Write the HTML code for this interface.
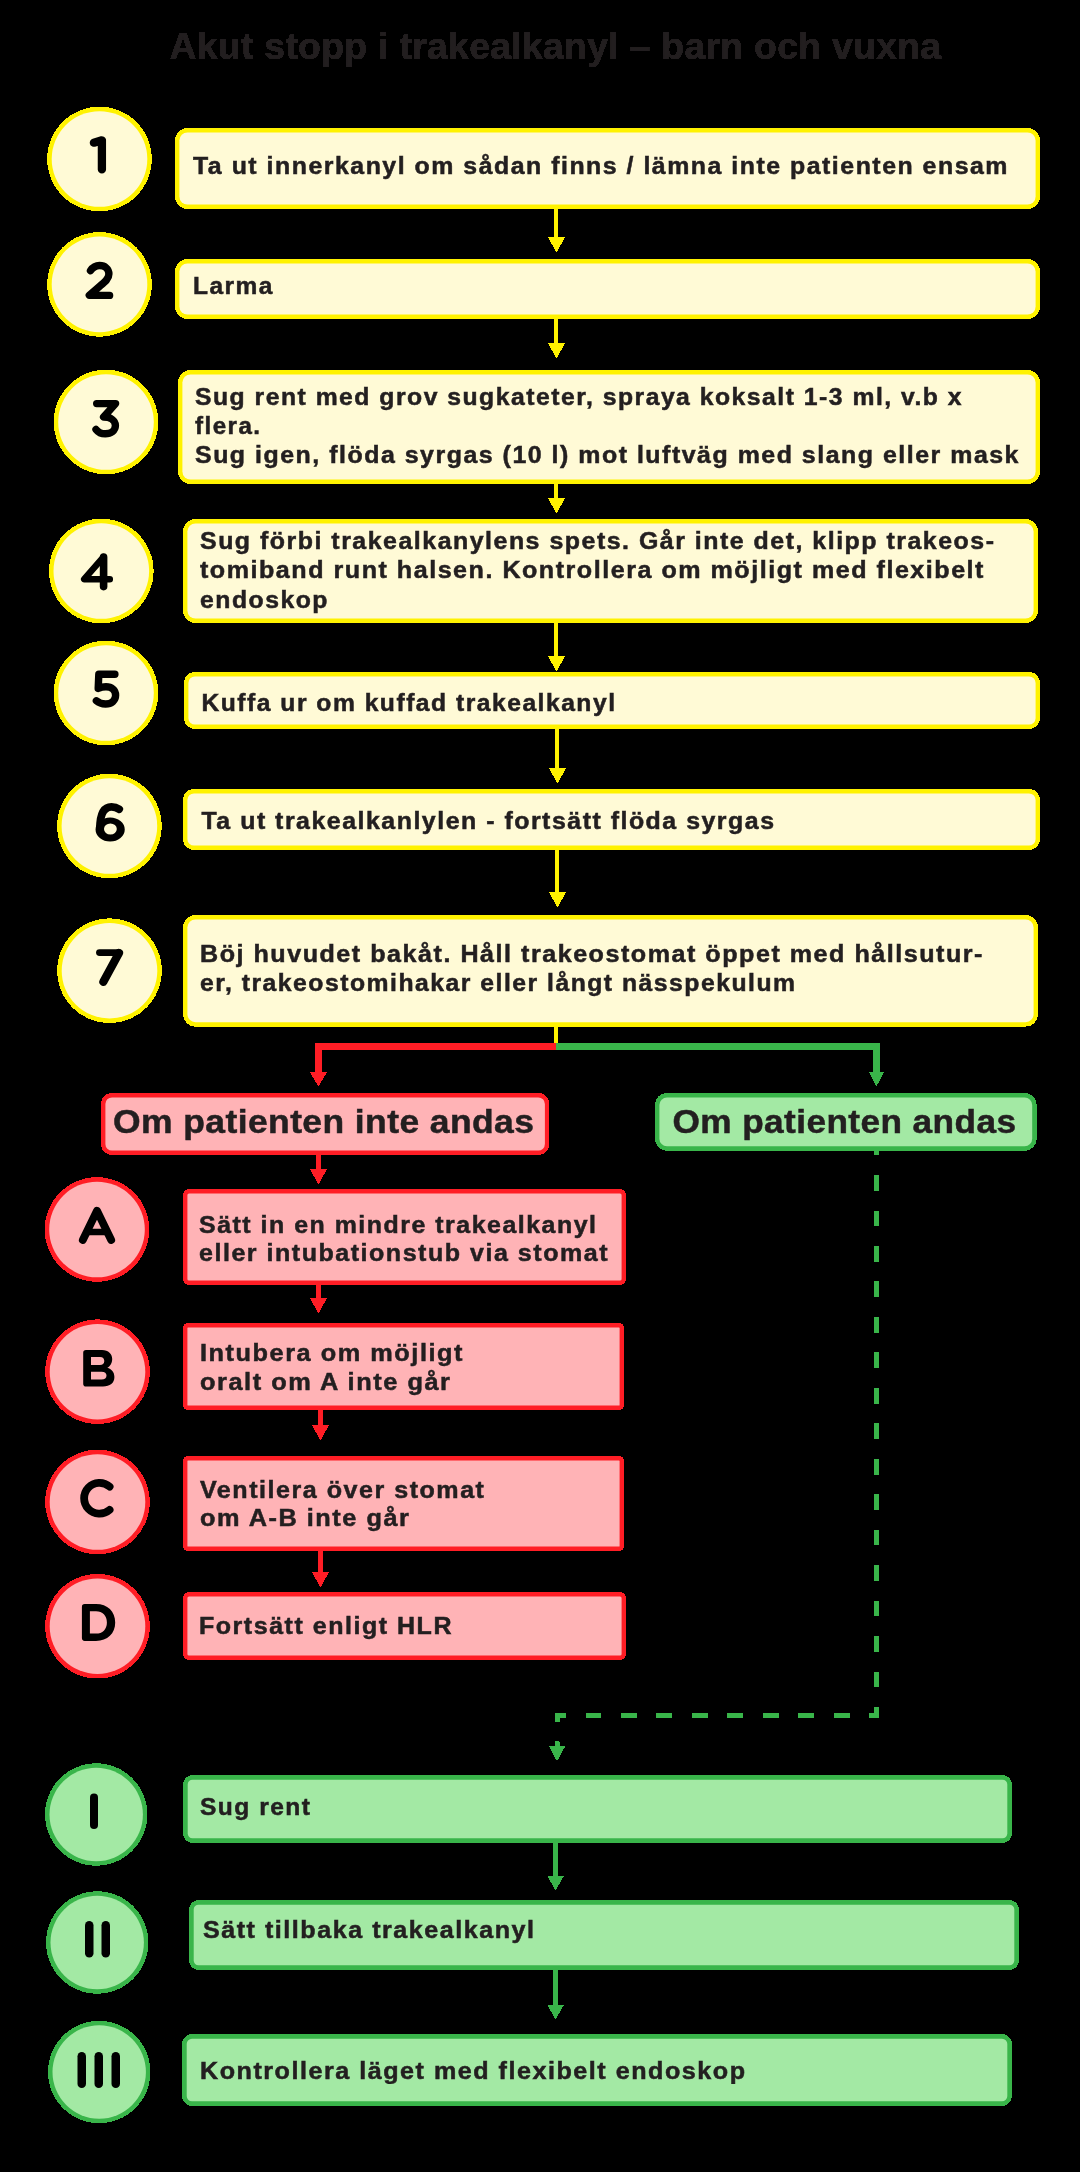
<!DOCTYPE html>
<html><head><meta charset="utf-8"><title>Akut stopp i trakealkanyl</title>
<style>
html,body{margin:0;padding:0;background:#000;}
body{width:1080px;height:2172px;overflow:hidden;}
svg{display:block;}
text{font-family:"Liberation Sans",sans-serif;font-weight:bold;}
.c{shape-rendering:crispEdges;}
.t{fill:#231f20;stroke:#231f20;stroke-width:0.5px;letter-spacing:1.4px;}
.hd{letter-spacing:0.4px;}
.h{fill:#231f20;stroke:#231f20;stroke-width:0.5px;letter-spacing:0.3px;filter:url(#hard);}
</style></head><body>
<svg width="1080" height="2172" viewBox="0 0 1080 2172">
<defs><filter id="hard" x="-2%" y="-20%" width="104%" height="140%" color-interpolation-filters="sRGB"><feComponentTransfer><feFuncA type="discrete" tableValues="0 1 1"/></feComponentTransfer></filter></defs>
<rect width="1080" height="2172" fill="#000"/>
<path class="c" d="M554,205H558V237H565.2L556.5,252.4L547.8,237H554z" fill="#fff200"/>
<path class="c" d="M554,315H558V343H565.2L556.5,358.4L547.8,343H554z" fill="#fff200"/>
<path class="c" d="M554,480H558V498H565.2L556.5,513.4L547.8,498H554z" fill="#fff200"/>
<path class="c" d="M554,619H558V656H565.2L556.5,671.4L547.8,656H554z" fill="#fff200"/>
<path class="c" d="M555,725H559V768H566.2L557.5,783.4L548.8,768H555z" fill="#fff200"/>
<path class="c" d="M555,846H559V892H566.2L557.5,907.4L548.8,892H555z" fill="#fff200"/>
<rect class="c" x="554" y="1022" width="4" height="22" fill="#fff200"/>
<path class="c" d="M556,1043H315V1072.4H310L318.4,1086.4L327,1072.4H322V1050H556z" fill="#ff1d25"/>
<path class="c" d="M556,1043H880V1072H884.2L876.5,1086.4L868.8,1072H873V1050H556z" fill="#39b54a"/>
<path class="c" d="M316,1151H321V1169H327.1L318.45000000000005,1184.4L309.8,1169H316z" fill="#ff1d25"/>
<path class="c" d="M316,1281H321V1298H327.1L318.45000000000005,1313.4L309.8,1298H316z" fill="#ff1d25"/>
<path class="c" d="M318,1406H323V1425H329.1L320.45000000000005,1440.4L311.8,1425H318z" fill="#ff1d25"/>
<path class="c" d="M318,1547H323V1572H329.1L320.45000000000005,1587.4L311.8,1572H318z" fill="#ff1d25"/>
<path class="c" d="M876.5,1139.6V1715.5H557V1746" fill="none" stroke="#39b54a" stroke-width="5" stroke-dasharray="15.8 19.66"/>
<path class="c" d="M555,1741H559V1745.6H565.6L557,1761.4L548.6,1745.6H555z" fill="#39b54a"/>
<path class="c" d="M553,1839H558V1875.5H564.2L555.6,1890.4L547,1875.5H553z" fill="#39b54a"/>
<path class="c" d="M553,1966H558V2004.5H564.2L555.6,2019.4L547,2004.5H553z" fill="#39b54a"/>
<rect class="c" x="175" y="128" width="865.00" height="81.00" rx="12.5" fill="#fff200"/>
<rect x="179.40" y="132.40" width="856.20" height="72.20" rx="8.10" fill="#fffad6"/>
<rect class="c" x="175" y="259" width="865.00" height="60.00" rx="12.5" fill="#fff200"/>
<rect x="179.40" y="263.40" width="856.20" height="51.20" rx="8.10" fill="#fffad6"/>
<rect class="c" x="178" y="370" width="862.00" height="114.00" rx="12.5" fill="#fff200"/>
<rect x="182.40" y="374.40" width="853.20" height="105.20" rx="8.10" fill="#fffad6"/>
<rect class="c" x="183" y="519" width="855.00" height="104.00" rx="12.5" fill="#fff200"/>
<rect x="187.40" y="523.40" width="846.20" height="95.20" rx="8.10" fill="#fffad6"/>
<rect class="c" x="184" y="672" width="856.00" height="57.00" rx="11" fill="#fff200"/>
<rect x="188.40" y="676.40" width="847.20" height="48.20" rx="6.60" fill="#fffad6"/>
<rect class="c" x="183" y="789" width="857.00" height="61.00" rx="11" fill="#fff200"/>
<rect x="187.40" y="793.40" width="848.20" height="52.20" rx="6.60" fill="#fffad6"/>
<rect class="c" x="183" y="915" width="855.00" height="111.60" rx="12.5" fill="#fff200"/>
<rect x="187.40" y="919.40" width="846.20" height="102.80" rx="8.10" fill="#fffad6"/>
<rect class="c" x="101" y="1093" width="448.30" height="62.00" rx="11" fill="#ff1d25"/>
<rect x="105.40" y="1097.40" width="439.50" height="53.20" rx="6.60" fill="#ffb3b6"/>
<rect class="c" x="655" y="1093" width="381.60" height="57.70" rx="12" fill="#39b54a"/>
<rect x="659.40" y="1097.40" width="372.80" height="48.90" rx="7.60" fill="#a3e9a4"/>
<rect class="c" x="183" y="1189" width="443.00" height="96.00" rx="6" fill="#ff1d25"/>
<rect x="187.40" y="1193.40" width="434.20" height="87.20" rx="1.60" fill="#ffb3b6"/>
<rect class="c" x="183" y="1323" width="441.00" height="87.00" rx="5" fill="#ff1d25"/>
<rect x="187.40" y="1327.40" width="432.20" height="78.20" rx="0.60" fill="#ffb3b6"/>
<rect class="c" x="183" y="1456" width="441.00" height="95.00" rx="5" fill="#ff1d25"/>
<rect x="187.40" y="1460.40" width="432.20" height="86.20" rx="0.60" fill="#ffb3b6"/>
<rect class="c" x="183" y="1592" width="443.00" height="68.00" rx="6" fill="#ff1d25"/>
<rect x="187.40" y="1596.40" width="434.20" height="59.20" rx="1.60" fill="#ffb3b6"/>
<rect class="c" x="183" y="1775" width="829.00" height="68.00" rx="9.5" fill="#39b54a"/>
<rect x="187.70" y="1779.70" width="819.60" height="58.60" rx="4.80" fill="#a3e9a4"/>
<rect class="c" x="189" y="1900" width="830.00" height="70.00" rx="9.5" fill="#39b54a"/>
<rect x="193.70" y="1904.70" width="820.60" height="60.60" rx="4.80" fill="#a3e9a4"/>
<rect class="c" x="182" y="2034" width="830.00" height="72.00" rx="10" fill="#39b54a"/>
<rect x="186.70" y="2038.70" width="820.60" height="62.60" rx="5.30" fill="#a3e9a4"/>
<circle class="c" cx="99.5" cy="159" r="52.3" fill="#fff200"/>
<circle cx="99.5" cy="159" r="47.80" fill="#fffad6"/>
<circle class="c" cx="99.5" cy="284.4" r="52.3" fill="#fff200"/>
<circle cx="99.5" cy="284.4" r="47.80" fill="#fffad6"/>
<circle class="c" cx="106" cy="422" r="52.3" fill="#fff200"/>
<circle cx="106" cy="422" r="47.80" fill="#fffad6"/>
<circle class="c" cx="101.3" cy="571" r="52.3" fill="#fff200"/>
<circle cx="101.3" cy="571" r="47.80" fill="#fffad6"/>
<circle class="c" cx="106" cy="693" r="52.3" fill="#fff200"/>
<circle cx="106" cy="693" r="47.80" fill="#fffad6"/>
<circle class="c" cx="109.4" cy="826" r="52.3" fill="#fff200"/>
<circle cx="109.4" cy="826" r="47.80" fill="#fffad6"/>
<circle class="c" cx="109.5" cy="970.7" r="52.3" fill="#fff200"/>
<circle cx="109.5" cy="970.7" r="47.80" fill="#fffad6"/>
<circle class="c" cx="97" cy="1229.5" r="52.3" fill="#ff1d25"/>
<circle cx="97" cy="1229.5" r="47.80" fill="#ffb3b6"/>
<circle class="c" cx="97.5" cy="1371.7" r="52.3" fill="#ff1d25"/>
<circle cx="97.5" cy="1371.7" r="47.80" fill="#ffb3b6"/>
<circle class="c" cx="97.5" cy="1502" r="52.3" fill="#ff1d25"/>
<circle cx="97.5" cy="1502" r="47.80" fill="#ffb3b6"/>
<circle class="c" cx="97.5" cy="1626.2" r="52.3" fill="#ff1d25"/>
<circle cx="97.5" cy="1626.2" r="47.80" fill="#ffb3b6"/>
<circle class="c" cx="96.2" cy="1814.5" r="51.2" fill="#39b54a"/>
<circle cx="96.2" cy="1814.5" r="46.70" fill="#a3e9a4"/>
<circle class="c" cx="97.2" cy="1942.5" r="51.2" fill="#39b54a"/>
<circle cx="97.2" cy="1942.5" r="46.70" fill="#a3e9a4"/>
<circle class="c" cx="99.2" cy="2072" r="51.2" fill="#39b54a"/>
<circle cx="99.2" cy="2072" r="46.70" fill="#a3e9a4"/>
<path d="M93.9,142.7L101.9,140.3V169.4" fill="none" stroke="#000" stroke-width="8.3" stroke-linecap="round" stroke-linejoin="round"/>
<path d="M90.5,270.6C93,267 96,265.5 99.5,265.5C105,265.5 108.9,269 108.9,274C108.9,279 105,282 100,286L89.3,295.4H109.6" fill="none" stroke="#000" stroke-width="7.4" stroke-linecap="round" stroke-linejoin="round"/>
<path d="M96.7,403.6H115.6L103.6,417C110,417 115.4,420 115.4,425.6C115.4,430.5 111,433.8 105.3,433.8C101,433.8 98,432 96,429.4" fill="none" stroke="#000" stroke-width="7.4" stroke-linecap="round" stroke-linejoin="round"/>
<path d="M103.6,586.6V557" fill="none" stroke="#000" stroke-width="7.6" stroke-linecap="round" stroke-linejoin="round"/>
<path d="M103.4,557.2L84.2,579.2H109.8" fill="none" stroke="#000" stroke-width="6.5" stroke-linecap="round" stroke-linejoin="round"/>
<path d="M114.9,674.3H98.8L98.2,688.5C101,687.2 103.5,686.8 106,686.8C111.5,686.8 115.6,690 115.6,695.3C115.6,700.5 111.5,704 105.6,704C101.5,704 98.5,702.7 96.4,700.8" fill="none" stroke="#000" stroke-width="7.4" stroke-linecap="round" stroke-linejoin="round"/>
<path d="M119.2,809.2C116.5,807.4 114.3,806.9 111.5,806.9C103.5,806.9 99.9,814 99.9,829" fill="none" stroke="#000" stroke-width="7.8" stroke-linecap="round" stroke-linejoin="round"/>
<path d="M95.55000000000001,829.4a14.6,12.0 0 1,0 29.2,0a14.6,12.0 0 1,0 -29.2,0zM104.0,829.0a6.4,5.6 0 1,0 12.8,0a6.4,5.6 0 1,0 -12.8,0z" fill="#000" fill-rule="evenodd"/>
<path d="M99.5,952.6H119.2" fill="none" stroke="#000" stroke-width="6.9" stroke-linecap="round" stroke-linejoin="round"/>
<path d="M119.0,953.0L103.4,981.8" fill="none" stroke="#000" stroke-width="8.2" stroke-linecap="round" stroke-linejoin="round"/>
<path d="M82.8,1240L97,1210.8L111.2,1240" fill="none" stroke="#000" stroke-width="7.8" stroke-linecap="round" stroke-linejoin="round"/>
<path d="M87.5,1232H106.5" fill="none" stroke="#000" stroke-width="6.4" stroke-linecap="round" stroke-linejoin="round"/>
<path d="M86,1350H102C108.5,1350 112.2,1354 112.2,1359C112.2,1363.5 110,1366.3 107.3,1367.8C111.5,1369.3 114.4,1372 114.4,1377C114.4,1383 110,1386.5 103,1386.5H86Q83.2,1386.5 83.2,1383.7V1352.8Q83.2,1350 86,1350ZM91,1356.9H100C102.8,1356.9 104.3,1358.5 104.3,1361C104.3,1363.5 102.5,1365 100,1365H91ZM91,1371.7H101.5C104.8,1371.7 106.5,1373.2 106.5,1375.6C106.5,1378 104.8,1379.6 101.5,1379.6H91Z" fill="#000" fill-rule="evenodd"/>
<path d="M109.6,1486.6A15.4,15.4 0 1 0 109.6,1509.9" fill="none" stroke="#000" stroke-width="7.8" stroke-linecap="round" stroke-linejoin="round"/>
<path d="M84.7,1604.1H96C107.5,1604.1 115.2,1611.5 115.2,1622.5C115.2,1633.5 107.5,1640.9 96,1640.9H84.7Q81.9,1640.9 81.9,1638.1V1606.9Q81.9,1604.1 84.7,1604.1ZM89.9,1611.2H96C102.5,1611.2 106.9,1615.7 106.9,1622.4C106.9,1629.2 102.5,1633.6 96,1633.6H89.9Z" fill="#000" fill-rule="evenodd"/>
<rect x="90" y="1793.5" width="8" height="35.5" rx="4.0" fill="#000"/>
<rect x="85" y="1921" width="8.5" height="36.5" rx="4.25" fill="#000"/>
<rect x="101.5" y="1921" width="8.5" height="36.5" rx="4.25" fill="#000"/>
<rect x="77.5" y="2052" width="8.5" height="36" rx="4.25" fill="#000"/>
<rect x="94.5" y="2052" width="8.5" height="36" rx="4.25" fill="#000"/>
<rect x="111.5" y="2052" width="8.5" height="36" rx="4.25" fill="#000"/>
<g opacity="0.999">
<text class="h" x="169.5" y="58.5" font-size="37" textLength="771.9" lengthAdjust="spacingAndGlyphs">Akut stopp i trakealkanyl – barn och vuxna</text>
<text class="t" x="193" y="173.5" font-size="23" textLength="816.0" lengthAdjust="spacingAndGlyphs">Ta ut innerkanyl om sådan finns / lämna inte patienten ensam</text>
<text class="t" x="193" y="293.5" font-size="23" textLength="81.0" lengthAdjust="spacingAndGlyphs">Larma</text>
<text class="t" x="195" y="405" font-size="23" textLength="768.0" lengthAdjust="spacingAndGlyphs">Sug rent med grov sugkateter, spraya koksalt 1-3 ml, v.b x</text>
<text class="t" x="195" y="434" font-size="23" textLength="66.5" lengthAdjust="spacingAndGlyphs">flera.</text>
<text class="t" x="195" y="463" font-size="23" textLength="825.0" lengthAdjust="spacingAndGlyphs">Sug igen, flöda syrgas (10 l) mot luftväg med slang eller mask</text>
<text class="t" x="200" y="549" font-size="23" textLength="795.5" lengthAdjust="spacingAndGlyphs">Sug förbi trakealkanylens spets. Går inte det, klipp trakeos-</text>
<text class="t" x="200" y="578" font-size="23" textLength="785.0" lengthAdjust="spacingAndGlyphs">tomiband runt halsen. Kontrollera om möjligt med flexibelt</text>
<text class="t" x="200" y="607.5" font-size="23" textLength="129.0" lengthAdjust="spacingAndGlyphs">endoskop</text>
<text class="t" x="201.5" y="710.6" font-size="23" textLength="415.0" lengthAdjust="spacingAndGlyphs">Kuffa ur om kuffad trakealkanyl</text>
<text class="t" x="201.5" y="829" font-size="23" textLength="574.0" lengthAdjust="spacingAndGlyphs">Ta ut trakealkanlylen - fortsätt flöda syrgas</text>
<text class="t" x="200" y="962" font-size="23" textLength="784.0" lengthAdjust="spacingAndGlyphs">Böj huvudet bakåt. Håll trakeostomat öppet med hållsutur-</text>
<text class="t" x="200" y="991" font-size="23" textLength="596.5" lengthAdjust="spacingAndGlyphs">er, trakeostomihakar eller långt nässpekulum</text>
<text class="t hd" x="113" y="1132.5" font-size="33" textLength="421.4" lengthAdjust="spacingAndGlyphs">Om patienten inte andas</text>
<text class="t hd" x="672.5" y="1132.5" font-size="33" textLength="343.9" lengthAdjust="spacingAndGlyphs">Om patienten andas</text>
<text class="t" x="199" y="1232.5" font-size="23" textLength="398.5" lengthAdjust="spacingAndGlyphs">Sätt in en mindre trakealkanyl</text>
<text class="t" x="199" y="1261" font-size="23" textLength="410.0" lengthAdjust="spacingAndGlyphs">eller intubationstub via stomat</text>
<text class="t" x="200" y="1361" font-size="23" textLength="264.0" lengthAdjust="spacingAndGlyphs">Intubera om möjligt</text>
<text class="t" x="200" y="1390" font-size="23" textLength="251.5" lengthAdjust="spacingAndGlyphs">oralt om A inte går</text>
<text class="t" x="200" y="1497.5" font-size="23" textLength="285.5" lengthAdjust="spacingAndGlyphs">Ventilera över stomat</text>
<text class="t" x="200" y="1526" font-size="23" textLength="210.5" lengthAdjust="spacingAndGlyphs">om A-B inte går</text>
<text class="t" x="199" y="1633.5" font-size="23" textLength="254.0" lengthAdjust="spacingAndGlyphs">Fortsätt enligt HLR</text>
<text class="t" x="200" y="1815" font-size="23" textLength="111.5" lengthAdjust="spacingAndGlyphs">Sug rent</text>
<text class="t" x="203" y="1937.5" font-size="23" textLength="332.5" lengthAdjust="spacingAndGlyphs">Sätt tillbaka trakealkanyl</text>
<text class="t" x="200" y="2078.5" font-size="23" textLength="546.5" lengthAdjust="spacingAndGlyphs">Kontrollera läget med flexibelt endoskop</text>
</g>
</svg>
</body></html>
